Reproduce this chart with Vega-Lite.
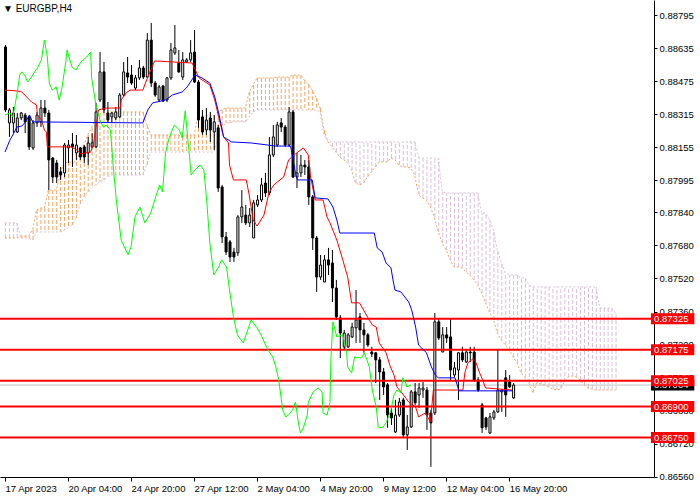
{
  "$schema": "https://vega.github.io/schema/vega-lite/v6.json",
  "width": 654,
  "height": 477,
  "autosize": {"type": "none"},
  "padding": {"left": 0, "top": 0, "right": 46, "bottom": 23},
  "background": "white",
  "title": {"text": "▼ EURGBP,H4", "anchor": "start", "frame": "group", "font": "Liberation Sans", "fontSize": 10, "fontWeight": "normal", "color": "#000000", "offset": 0, "dy": 14, "dx": 3},
  "datasets": {
    "candles": [
      {"i":0,"o":0.88641,"h":0.88650,"l":0.88326,"c":0.88336},
      {"i":1,"o":0.88273,"h":0.88345,"l":0.88205,"c":0.88336},
      {"i":2,"o":0.88273,"h":0.88350,"l":0.88224,"c":0.88321},
      {"i":3,"o":0.88229,"h":0.88321,"l":0.88224,"c":0.88297},
      {"i":4,"o":0.88297,"h":0.88326,"l":0.88287,"c":0.88321},
      {"i":5,"o":0.88311,"h":0.88321,"l":0.88224,"c":0.88278},
      {"i":6,"o":0.88302,"h":0.88311,"l":0.88142,"c":0.88157},
      {"i":7,"o":0.88152,"h":0.88287,"l":0.88142,"c":0.88273},
      {"i":8,"o":0.88273,"h":0.88326,"l":0.88253,"c":0.88311},
      {"i":9,"o":0.88278,"h":0.88384,"l":0.88253,"c":0.88345},
      {"i":10,"o":0.88345,"h":0.88384,"l":0.88302,"c":0.88321},
      {"i":11,"o":0.88321,"h":0.88336,"l":0.87948,"c":0.88094},
      {"i":12,"o":0.88103,"h":0.88108,"l":0.87982,"c":0.88011},
      {"i":13,"o":0.88079,"h":0.88094,"l":0.87982,"c":0.88011},
      {"i":14,"o":0.88036,"h":0.88060,"l":0.87997,"c":0.88021},
      {"i":15,"o":0.88031,"h":0.88176,"l":0.88011,"c":0.88166},
      {"i":16,"o":0.88152,"h":0.88190,"l":0.88079,"c":0.88166},
      {"i":17,"o":0.88171,"h":0.88224,"l":0.88060,"c":0.88157},
      {"i":18,"o":0.88128,"h":0.88215,"l":0.88094,"c":0.88166},
      {"i":19,"o":0.88152,"h":0.88157,"l":0.88094,"c":0.88108},
      {"i":20,"o":0.88157,"h":0.88166,"l":0.88079,"c":0.88108},
      {"i":21,"o":0.88128,"h":0.88205,"l":0.88069,"c":0.88176},
      {"i":22,"o":0.88157,"h":0.88224,"l":0.88152,"c":0.88176},
      {"i":23,"o":0.88157,"h":0.88370,"l":0.88152,"c":0.88326},
      {"i":24,"o":0.88384,"h":0.88616,"l":0.88374,"c":0.88520},
      {"i":25,"o":0.88520,"h":0.88568,"l":0.88321,"c":0.88336},
      {"i":26,"o":0.88321,"h":0.88374,"l":0.88278,"c":0.88287},
      {"i":27,"o":0.88302,"h":0.88326,"l":0.88278,"c":0.88321},
      {"i":28,"o":0.88297,"h":0.88350,"l":0.88287,"c":0.88326},
      {"i":29,"o":0.88302,"h":0.88418,"l":0.88297,"c":0.88408},
      {"i":30,"o":0.88408,"h":0.88568,"l":0.88399,"c":0.88520},
      {"i":31,"o":0.88515,"h":0.88592,"l":0.88466,"c":0.88495},
      {"i":32,"o":0.88505,"h":0.88553,"l":0.88457,"c":0.88466},
      {"i":33,"o":0.88442,"h":0.88505,"l":0.88432,"c":0.88491},
      {"i":34,"o":0.88491,"h":0.88578,"l":0.88481,"c":0.88539},
      {"i":35,"o":0.88539,"h":0.88549,"l":0.88486,"c":0.88495},
      {"i":36,"o":0.88495,"h":0.88708,"l":0.88491,"c":0.88674},
      {"i":37,"o":0.88674,"h":0.88757,"l":0.88447,"c":0.88466},
      {"i":38,"o":0.88466,"h":0.88476,"l":0.88399,"c":0.88408},
      {"i":39,"o":0.88384,"h":0.88457,"l":0.88374,"c":0.88447},
      {"i":40,"o":0.88452,"h":0.88457,"l":0.88374,"c":0.88379},
      {"i":41,"o":0.88384,"h":0.88495,"l":0.88374,"c":0.88491},
      {"i":42,"o":0.88491,"h":0.88660,"l":0.88481,"c":0.88626},
      {"i":43,"o":0.88612,"h":0.88747,"l":0.88602,"c":0.88636},
      {"i":44,"o":0.88563,"h":0.88626,"l":0.88515,"c":0.88520},
      {"i":45,"o":0.88495,"h":0.88616,"l":0.88481,"c":0.88578},
      {"i":46,"o":0.88568,"h":0.88587,"l":0.88563,"c":0.88578},
      {"i":47,"o":0.88578,"h":0.88674,"l":0.88568,"c":0.88612},
      {"i":48,"o":0.88616,"h":0.88723,"l":0.88466,"c":0.88471},
      {"i":49,"o":0.88471,"h":0.88481,"l":0.88249,"c":0.88287},
      {"i":50,"o":0.88302,"h":0.88336,"l":0.88215,"c":0.88229},
      {"i":51,"o":0.88239,"h":0.88345,"l":0.88215,"c":0.88287},
      {"i":52,"o":0.88297,"h":0.88326,"l":0.88181,"c":0.88239},
      {"i":53,"o":0.88229,"h":0.88311,"l":0.88142,"c":0.88278},
      {"i":54,"o":0.88249,"h":0.88263,"l":0.87939,"c":0.87958},
      {"i":55,"o":0.87963,"h":0.87973,"l":0.87692,"c":0.87721},
      {"i":56,"o":0.87721,"h":0.87745,"l":0.87634,"c":0.87648},
      {"i":57,"o":0.87697,"h":0.87706,"l":0.87600,"c":0.87624},
      {"i":58,"o":0.87648,"h":0.87668,"l":0.87600,"c":0.87624},
      {"i":59,"o":0.87644,"h":0.87827,"l":0.87629,"c":0.87818},
      {"i":60,"o":0.87818,"h":0.87948,"l":0.87789,"c":0.87866},
      {"i":61,"o":0.87827,"h":0.87876,"l":0.87779,"c":0.87789},
      {"i":62,"o":0.87789,"h":0.87861,"l":0.87769,"c":0.87827},
      {"i":63,"o":0.87716,"h":0.87900,"l":0.87716,"c":0.87886},
      {"i":64,"o":0.87876,"h":0.87924,"l":0.87866,"c":0.87900},
      {"i":65,"o":0.87900,"h":0.88007,"l":0.87890,"c":0.87973},
      {"i":66,"o":0.87982,"h":0.88031,"l":0.87915,"c":0.87934},
      {"i":67,"o":0.87934,"h":0.88205,"l":0.87924,"c":0.88118},
      {"i":68,"o":0.88118,"h":0.88263,"l":0.88108,"c":0.88205},
      {"i":69,"o":0.88166,"h":0.88278,"l":0.88157,"c":0.88263},
      {"i":70,"o":0.88273,"h":0.88297,"l":0.88229,"c":0.88253},
      {"i":71,"o":0.88253,"h":0.88263,"l":0.88157,"c":0.88166},
      {"i":72,"o":0.88166,"h":0.88350,"l":0.88157,"c":0.88326},
      {"i":73,"o":0.88326,"h":0.88336,"l":0.88007,"c":0.88011},
      {"i":74,"o":0.88011,"h":0.88128,"l":0.87958,"c":0.88031},
      {"i":75,"o":0.88031,"h":0.88118,"l":0.88011,"c":0.88069},
      {"i":76,"o":0.88069,"h":0.88094,"l":0.88021,"c":0.88060},
      {"i":77,"o":0.88060,"h":0.88094,"l":0.87876,"c":0.87915},
      {"i":78,"o":0.87915,"h":0.87924,"l":0.87658,"c":0.87716},
      {"i":79,"o":0.87716,"h":0.87726,"l":0.87455,"c":0.87527},
      {"i":80,"o":0.87527,"h":0.87634,"l":0.87513,"c":0.87585},
      {"i":81,"o":0.87503,"h":0.87634,"l":0.87503,"c":0.87610},
      {"i":82,"o":0.87610,"h":0.87668,"l":0.87537,"c":0.87585},
      {"i":83,"o":0.87595,"h":0.87658,"l":0.87406,"c":0.87474},
      {"i":84,"o":0.87474,"h":0.87513,"l":0.87319,"c":0.87334},
      {"i":85,"o":0.87329,"h":0.87343,"l":0.87135,"c":0.87256},
      {"i":86,"o":0.87189,"h":0.87271,"l":0.87174,"c":0.87256},
      {"i":87,"o":0.87189,"h":0.87256,"l":0.87184,"c":0.87247},
      {"i":88,"o":0.87237,"h":0.87305,"l":0.87232,"c":0.87285},
      {"i":89,"o":0.87281,"h":0.87464,"l":0.87208,"c":0.87319},
      {"i":90,"o":0.87334,"h":0.87353,"l":0.87208,"c":0.87271},
      {"i":91,"o":0.87271,"h":0.87305,"l":0.87160,"c":0.87247},
      {"i":92,"o":0.87247,"h":0.87256,"l":0.87189,"c":0.87198},
      {"i":93,"o":0.87164,"h":0.87189,"l":0.87140,"c":0.87155},
      {"i":94,"o":0.87160,"h":0.87164,"l":0.87014,"c":0.87126},
      {"i":95,"o":0.87126,"h":0.87140,"l":0.86932,"c":0.87068},
      {"i":96,"o":0.87068,"h":0.87087,"l":0.86956,"c":0.86995},
      {"i":97,"o":0.87005,"h":0.87014,"l":0.86797,"c":0.86859},
      {"i":98,"o":0.86869,"h":0.86898,"l":0.86811,"c":0.86845},
      {"i":99,"o":0.86777,"h":0.86932,"l":0.86772,"c":0.86859},
      {"i":100,"o":0.86859,"h":0.86942,"l":0.86850,"c":0.86922},
      {"i":101,"o":0.86932,"h":0.86942,"l":0.86753,"c":0.86763},
      {"i":102,"o":0.86763,"h":0.86859,"l":0.86690,"c":0.86801},
      {"i":103,"o":0.86801,"h":0.86980,"l":0.86797,"c":0.86971},
      {"i":104,"o":0.86971,"h":0.87014,"l":0.86908,"c":0.86918},
      {"i":105,"o":0.86956,"h":0.87014,"l":0.86893,"c":0.86990},
      {"i":106,"o":0.86980,"h":0.87019,"l":0.86942,"c":0.86990},
      {"i":107,"o":0.86980,"h":0.86995,"l":0.86787,"c":0.86859},
      {"i":108,"o":0.86869,"h":0.86884,"l":0.86608,"c":0.86821},
      {"i":109,"o":0.86869,"h":0.87353,"l":0.86859,"c":0.87310},
      {"i":110,"o":0.87310,"h":0.87324,"l":0.87222,"c":0.87232},
      {"i":111,"o":0.87164,"h":0.87285,"l":0.87164,"c":0.87247},
      {"i":112,"o":0.87247,"h":0.87285,"l":0.87208,"c":0.87232},
      {"i":113,"o":0.87237,"h":0.87324,"l":0.87029,"c":0.87077},
      {"i":114,"o":0.87053,"h":0.87116,"l":0.87043,"c":0.87087},
      {"i":115,"o":0.87077,"h":0.87164,"l":0.86932,"c":0.87160},
      {"i":116,"o":0.87160,"h":0.87189,"l":0.87116,"c":0.87126},
      {"i":117,"o":0.87116,"h":0.87174,"l":0.87111,"c":0.87164},
      {"i":118,"o":0.87164,"h":0.87189,"l":0.87116,"c":0.87160},
      {"i":119,"o":0.87164,"h":0.87189,"l":0.87019,"c":0.87029},
      {"i":120,"o":0.87029,"h":0.87043,"l":0.86971,"c":0.86980},
      {"i":121,"o":0.86908,"h":0.86918,"l":0.86772,"c":0.86797},
      {"i":122,"o":0.86845,"h":0.86850,"l":0.86787,"c":0.86801},
      {"i":123,"o":0.86772,"h":0.86869,"l":0.86767,"c":0.86850},
      {"i":124,"o":0.86845,"h":0.86884,"l":0.86835,"c":0.86874},
      {"i":125,"o":0.86874,"h":0.87174,"l":0.86869,"c":0.86980},
      {"i":126,"o":0.86971,"h":0.86980,"l":0.86874,"c":0.86980},
      {"i":127,"o":0.87039,"h":0.87077,"l":0.86850,"c":0.86956},
      {"i":128,"o":0.87019,"h":0.87053,"l":0.86990,"c":0.86995},
      {"i":129,"o":0.86942,"h":0.87014,"l":0.86937,"c":0.87004}
    ],
    "cloud": [
      {"i":0,"a":0.87716,"b":0.87789},{"i":1,"a":0.87716,"b":0.87789},{"i":2,"a":0.87716,"b":0.87789},{"i":3,"a":0.87716,"b":0.87789},
      {"i":4,"a":0.87726,"b":0.87716},{"i":5,"a":0.87726,"b":0.87716},{"i":6,"a":0.87726,"b":0.87716},{"i":7,"a":0.87755,"b":0.87706},
      {"i":8,"a":0.87852,"b":0.87745},{"i":9,"a":0.87861,"b":0.87745},{"i":10,"a":0.87861,"b":0.87745},{"i":11,"a":0.87948,"b":0.87745},
      {"i":12,"a":0.87948,"b":0.87745},{"i":13,"a":0.87948,"b":0.87745},{"i":14,"a":0.88021,"b":0.87745},{"i":15,"a":0.88079,"b":0.87755},
      {"i":16,"a":0.88084,"b":0.87765},{"i":17,"a":0.88084,"b":0.87779},{"i":18,"a":0.88084,"b":0.87813},{"i":19,"a":0.88132,"b":0.87876},
      {"i":20,"a":0.88166,"b":0.87915},{"i":21,"a":0.88215,"b":0.87939},{"i":22,"a":0.88249,"b":0.87958},{"i":23,"a":0.88297,"b":0.87973},
      {"i":24,"a":0.88316,"b":0.87987},{"i":25,"a":0.88326,"b":0.87997},{"i":26,"a":0.88326,"b":0.88011},{"i":27,"a":0.88326,"b":0.88021},
      {"i":28,"a":0.88326,"b":0.88021},{"i":29,"a":0.88326,"b":0.88021},{"i":30,"a":0.88326,"b":0.88021},{"i":31,"a":0.88326,"b":0.88021},
      {"i":32,"a":0.88326,"b":0.88021},{"i":33,"a":0.88326,"b":0.88021},{"i":34,"a":0.88326,"b":0.88021},{"i":35,"a":0.88326,"b":0.88021},
      {"i":36,"a":0.88263,"b":0.88069},{"i":37,"a":0.88215,"b":0.88132},{"i":38,"a":0.88215,"b":0.88132},{"i":39,"a":0.88215,"b":0.88132},
      {"i":40,"a":0.88215,"b":0.88132},{"i":41,"a":0.88215,"b":0.88132},{"i":42,"a":0.88215,"b":0.88132},{"i":43,"a":0.88215,"b":0.88132},
      {"i":44,"a":0.88215,"b":0.88132},{"i":45,"a":0.88205,"b":0.88132},{"i":46,"a":0.88215,"b":0.88132},{"i":47,"a":0.88215,"b":0.88132},
      {"i":48,"a":0.88215,"b":0.88132},{"i":49,"a":0.88307,"b":0.88132},{"i":50,"a":0.88307,"b":0.88132},{"i":51,"a":0.88307,"b":0.88132},
      {"i":52,"a":0.88307,"b":0.88132},{"i":53,"a":0.88307,"b":0.88132},{"i":54,"a":0.88326,"b":0.88190},{"i":55,"a":0.88336,"b":0.88239},
      {"i":56,"a":0.88345,"b":0.88273},{"i":57,"a":0.88345,"b":0.88273},{"i":58,"a":0.88345,"b":0.88278},{"i":59,"a":0.88345,"b":0.88278},
      {"i":60,"a":0.88345,"b":0.88278},{"i":61,"a":0.88345,"b":0.88278},{"i":62,"a":0.88423,"b":0.88302},{"i":63,"a":0.88457,"b":0.88326},
      {"i":64,"a":0.88491,"b":0.88336},{"i":65,"a":0.88491,"b":0.88336},{"i":66,"a":0.88491,"b":0.88336},{"i":67,"a":0.88491,"b":0.88336},
      {"i":68,"a":0.88491,"b":0.88336},{"i":69,"a":0.88495,"b":0.88336},{"i":70,"a":0.88495,"b":0.88336},{"i":71,"a":0.88495,"b":0.88336},
      {"i":72,"a":0.88495,"b":0.88336},{"i":73,"a":0.88505,"b":0.88336},{"i":74,"a":0.88505,"b":0.88336},{"i":75,"a":0.88505,"b":0.88336},
      {"i":76,"a":0.88481,"b":0.88336},{"i":77,"a":0.88461,"b":0.88336},{"i":78,"a":0.88432,"b":0.88336},{"i":79,"a":0.88394,"b":0.88336},
      {"i":80,"a":0.88345,"b":0.88326},{"i":81,"a":0.88239,"b":0.88215},{"i":82,"a":0.88181,"b":0.88181},{"i":83,"a":0.88157,"b":0.88181},
      {"i":84,"a":0.88132,"b":0.88181},{"i":85,"a":0.88108,"b":0.88181},{"i":86,"a":0.88094,"b":0.88181},{"i":87,"a":0.88079,"b":0.88181},
      {"i":88,"a":0.88045,"b":0.88181},{"i":89,"a":0.87982,"b":0.88181},{"i":90,"a":0.87973,"b":0.88181},{"i":91,"a":0.87982,"b":0.88181},
      {"i":92,"a":0.88011,"b":0.88181},{"i":93,"a":0.88036,"b":0.88181},{"i":94,"a":0.88060,"b":0.88181},{"i":95,"a":0.88084,"b":0.88181},
      {"i":96,"a":0.88084,"b":0.88181},{"i":97,"a":0.88084,"b":0.88181},{"i":98,"a":0.88103,"b":0.88181},{"i":99,"a":0.88094,"b":0.88181},
      {"i":100,"a":0.88069,"b":0.88181},{"i":101,"a":0.88060,"b":0.88181},{"i":102,"a":0.88060,"b":0.88181},{"i":103,"a":0.88055,"b":0.88181},
      {"i":104,"a":0.88021,"b":0.88181},{"i":105,"a":0.87924,"b":0.88108},{"i":106,"a":0.87910,"b":0.88103},{"i":107,"a":0.87900,"b":0.88103},
      {"i":108,"a":0.87866,"b":0.88103},{"i":109,"a":0.87818,"b":0.88103},{"i":110,"a":0.87745,"b":0.88103},{"i":111,"a":0.87692,"b":0.87939},
      {"i":112,"a":0.87658,"b":0.87934},{"i":113,"a":0.87610,"b":0.87934},{"i":114,"a":0.87576,"b":0.87934},{"i":115,"a":0.87576,"b":0.87934},
      {"i":116,"a":0.87571,"b":0.87934},{"i":117,"a":0.87552,"b":0.87934},{"i":118,"a":0.87537,"b":0.87934},{"i":119,"a":0.87513,"b":0.87934},
      {"i":120,"a":0.87489,"b":0.87934},{"i":121,"a":0.87450,"b":0.87837},{"i":122,"a":0.87402,"b":0.87837},{"i":123,"a":0.87358,"b":0.87803},
      {"i":124,"a":0.87319,"b":0.87755},{"i":125,"a":0.87256,"b":0.87658},{"i":126,"a":0.87222,"b":0.87600},{"i":127,"a":0.87198,"b":0.87547},
      {"i":128,"a":0.87174,"b":0.87537},{"i":129,"a":0.87140,"b":0.87537},{"i":130,"a":0.87111,"b":0.87537},{"i":131,"a":0.87063,"b":0.87523},
      {"i":132,"a":0.87039,"b":0.87523},{"i":133,"a":0.87014,"b":0.87489},{"i":134,"a":0.86966,"b":0.87479},{"i":135,"a":0.87014,"b":0.87479},
      {"i":136,"a":0.87009,"b":0.87479},{"i":137,"a":0.87005,"b":0.87479},{"i":138,"a":0.86995,"b":0.87479},{"i":139,"a":0.86985,"b":0.87479},
      {"i":140,"a":0.86980,"b":0.87479},{"i":141,"a":0.86985,"b":0.87479},{"i":142,"a":0.87019,"b":0.87479},{"i":143,"a":0.87043,"b":0.87479},
      {"i":144,"a":0.87048,"b":0.87479},{"i":145,"a":0.87043,"b":0.87479},{"i":146,"a":0.87029,"b":0.87479},{"i":147,"a":0.87005,"b":0.87479},
      {"i":148,"a":0.86990,"b":0.87479},{"i":149,"a":0.86985,"b":0.87479},{"i":150,"a":0.86980,"b":0.87479},{"i":151,"a":0.86980,"b":0.87377},
      {"i":152,"a":0.86980,"b":0.87377},{"i":153,"a":0.86980,"b":0.87377},{"i":154,"a":0.86980,"b":0.87377},{"i":155,"a":0.86980,"b":0.87353}
    ],
    "lines": [
      {"s":"tenkan","i":0,"p":0.88432},{"s":"tenkan","i":3,"p":0.88428},{"s":"tenkan","i":4.25,"p":0.88423},{"s":"tenkan","i":5,"p":0.88408},
      {"s":"tenkan","i":6.75,"p":0.88374},{"s":"tenkan","i":8,"p":0.88360},{"s":"tenkan","i":8.25,"p":0.88311},{"s":"tenkan","i":9.25,"p":0.88287},
      {"s":"tenkan","i":10,"p":0.88239},{"s":"tenkan","i":10.5,"p":0.88229},{"s":"tenkan","i":10.75,"p":0.88157},{"s":"tenkan","i":16.75,"p":0.88157},
      {"s":"tenkan","i":18.25,"p":0.88142},{"s":"tenkan","i":19.25,"p":0.88123},{"s":"tenkan","i":21.75,"p":0.88132},{"s":"tenkan","i":22.5,"p":0.88176},
      {"s":"tenkan","i":23.75,"p":0.88336},{"s":"tenkan","i":25.75,"p":0.88345},{"s":"tenkan","i":29.25,"p":0.88345},{"s":"tenkan","i":29.5,"p":0.88384},
      {"s":"tenkan","i":30.75,"p":0.88418},{"s":"tenkan","i":31.75,"p":0.88432},{"s":"tenkan","i":35,"p":0.88432},{"s":"tenkan","i":35.75,"p":0.88471},
      {"s":"tenkan","i":37,"p":0.88529},{"s":"tenkan","i":38,"p":0.88573},{"s":"tenkan","i":47.5,"p":0.88563},{"s":"tenkan","i":49.25,"p":0.88491},
      {"s":"tenkan","i":52,"p":0.88457},{"s":"tenkan","i":53.25,"p":0.88384},{"s":"tenkan","i":54.25,"p":0.88302},{"s":"tenkan","i":55.5,"p":0.88205},
      {"s":"tenkan","i":56.75,"p":0.88176},{"s":"tenkan","i":57,"p":0.88069},{"s":"tenkan","i":58,"p":0.87997},{"s":"tenkan","i":61.25,"p":0.87997},
      {"s":"tenkan","i":62,"p":0.87924},{"s":"tenkan","i":63,"p":0.87803},{"s":"tenkan","i":64,"p":0.87774},{"s":"tenkan","i":65.75,"p":0.87827},
      {"s":"tenkan","i":67,"p":0.87934},{"s":"tenkan","i":68.25,"p":0.87973},{"s":"tenkan","i":70.75,"p":0.88011},{"s":"tenkan","i":72,"p":0.88094},
      {"s":"tenkan","i":73.75,"p":0.88123},{"s":"tenkan","i":75.75,"p":0.88152},{"s":"tenkan","i":77,"p":0.88118},{"s":"tenkan","i":77.5,"p":0.88021},
      {"s":"tenkan","i":78.75,"p":0.87900},{"s":"tenkan","i":80.75,"p":0.87900},{"s":"tenkan","i":81.75,"p":0.87818},{"s":"tenkan","i":82.5,"p":0.87789},
      {"s":"tenkan","i":84.25,"p":0.87706},{"s":"tenkan","i":85.75,"p":0.87610},{"s":"tenkan","i":87,"p":0.87527},{"s":"tenkan","i":88,"p":0.87402},
      {"s":"tenkan","i":90,"p":0.87402},{"s":"tenkan","i":91.75,"p":0.87343},{"s":"tenkan","i":93.25,"p":0.87295},{"s":"tenkan","i":94.25,"p":0.87285},
      {"s":"tenkan","i":95,"p":0.87208},{"s":"tenkan","i":96.75,"p":0.87160},{"s":"tenkan","i":97.75,"p":0.87097},{"s":"tenkan","i":98.75,"p":0.87053},
      {"s":"tenkan","i":99.5,"p":0.86995},{"s":"tenkan","i":100.75,"p":0.86966},{"s":"tenkan","i":102.5,"p":0.86922},{"s":"tenkan","i":104.25,"p":0.86898},
      {"s":"tenkan","i":105,"p":0.86850},{"s":"tenkan","i":106.75,"p":0.86869},{"s":"tenkan","i":108,"p":0.86826},{"s":"tenkan","i":108.75,"p":0.86980},
      {"s":"tenkan","i":116.25,"p":0.86980},{"s":"tenkan","i":116.75,"p":0.87063},{"s":"tenkan","i":117.5,"p":0.87111},{"s":"tenkan","i":118.75,"p":0.87130},
      {"s":"tenkan","i":119.5,"p":0.87116},{"s":"tenkan","i":120.5,"p":0.87063},{"s":"tenkan","i":121.25,"p":0.87029},{"s":"tenkan","i":122,"p":0.86990},
      {"s":"tenkan","i":128.75,"p":0.86980},
      {"s":"kijun","i":0,"p":0.88132},{"s":"kijun","i":1.25,"p":0.88190},{"s":"kijun","i":2,"p":0.88215},{"s":"kijun","i":3,"p":0.88253},
      {"s":"kijun","i":4.25,"p":0.88258},{"s":"kijun","i":5,"p":0.88273},{"s":"kijun","i":6.25,"p":0.88311},{"s":"kijun","i":7,"p":0.88278},
      {"s":"kijun","i":35,"p":0.88273},{"s":"kijun","i":36.25,"p":0.88336},{"s":"kijun","i":37.5,"p":0.88370},{"s":"kijun","i":40.75,"p":0.88384},
      {"s":"kijun","i":42.5,"p":0.88408},{"s":"kijun","i":45,"p":0.88423},{"s":"kijun","i":46.25,"p":0.88447},{"s":"kijun","i":48.25,"p":0.88505},
      {"s":"kijun","i":50,"p":0.88491},{"s":"kijun","i":52,"p":0.88466},{"s":"kijun","i":53.25,"p":0.88399},{"s":"kijun","i":54.25,"p":0.88321},
      {"s":"kijun","i":55.5,"p":0.88205},{"s":"kijun","i":57.5,"p":0.88181},{"s":"kijun","i":62.5,"p":0.88176},{"s":"kijun","i":68.75,"p":0.88161},
      {"s":"kijun","i":72.5,"p":0.88161},{"s":"kijun","i":73,"p":0.88108},{"s":"kijun","i":73.75,"p":0.88031},{"s":"kijun","i":74.25,"p":0.87997},
      {"s":"kijun","i":78,"p":0.87997},{"s":"kijun","i":78.75,"p":0.87910},{"s":"kijun","i":82,"p":0.87905},{"s":"kijun","i":83.25,"p":0.87866},
      {"s":"kijun","i":84.25,"p":0.87803},{"s":"kijun","i":85,"p":0.87740},{"s":"kijun","i":93.75,"p":0.87740},{"s":"kijun","i":94.5,"p":0.87668},
      {"s":"kijun","i":95.75,"p":0.87648},{"s":"kijun","i":96.75,"p":0.87595},{"s":"kijun","i":98,"p":0.87571},{"s":"kijun","i":98.5,"p":0.87513},
      {"s":"kijun","i":99,"p":0.87464},{"s":"kijun","i":100.5,"p":0.87455},{"s":"kijun","i":102.5,"p":0.87406},{"s":"kijun","i":103.25,"p":0.87368},
      {"s":"kijun","i":104.25,"p":0.87285},{"s":"kijun","i":105,"p":0.87198},{"s":"kijun","i":105.75,"p":0.87184},{"s":"kijun","i":107,"p":0.87160},
      {"s":"kijun","i":108.25,"p":0.87092},{"s":"kijun","i":109.25,"p":0.87053},{"s":"kijun","i":110,"p":0.87039},{"s":"kijun","i":114.25,"p":0.87039},
      {"s":"kijun","i":115.25,"p":0.86976},{"s":"kijun","i":128.75,"p":0.86976},
      {"s":"chikou","i":0,"p":0.88311},{"s":"chikou","i":1.25,"p":0.88321},{"s":"chikou","i":2,"p":0.88302},{"s":"chikou","i":3,"p":0.88408},
      {"s":"chikou","i":3.75,"p":0.88505},{"s":"chikou","i":4.25,"p":0.88520},{"s":"chikou","i":5,"p":0.88505},{"s":"chikou","i":5.75,"p":0.88471},
      {"s":"chikou","i":6.75,"p":0.88495},{"s":"chikou","i":7.5,"p":0.88520},{"s":"chikou","i":8.25,"p":0.88539},{"s":"chikou","i":9.25,"p":0.88578},
      {"s":"chikou","i":10,"p":0.88674},{"s":"chikou","i":10.75,"p":0.88592},{"s":"chikou","i":11.25,"p":0.88466},{"s":"chikou","i":12,"p":0.88432},
      {"s":"chikou","i":13,"p":0.88447},{"s":"chikou","i":13.75,"p":0.88384},{"s":"chikou","i":14.5,"p":0.88447},{"s":"chikou","i":15.5,"p":0.88578},
      {"s":"chikou","i":15.75,"p":0.88626},{"s":"chikou","i":17,"p":0.88544},{"s":"chikou","i":18,"p":0.88529},{"s":"chikou","i":19.25,"p":0.88568},
      {"s":"chikou","i":20.75,"p":0.88592},{"s":"chikou","i":21.75,"p":0.88616},{"s":"chikou","i":22,"p":0.88491},{"s":"chikou","i":23,"p":0.88370},
      {"s":"chikou","i":23.75,"p":0.88311},{"s":"chikou","i":24.25,"p":0.88278},{"s":"chikou","i":25,"p":0.88253},{"s":"chikou","i":25.75,"p":0.88263},
      {"s":"chikou","i":26.75,"p":0.88239},{"s":"chikou","i":27.5,"p":0.88060},{"s":"chikou","i":28.25,"p":0.87900},{"s":"chikou","i":29.5,"p":0.87706},
      {"s":"chikou","i":31.25,"p":0.87634},{"s":"chikou","i":32,"p":0.87673},{"s":"chikou","i":33,"p":0.87818},{"s":"chikou","i":34.25,"p":0.87866},
      {"s":"chikou","i":35.5,"p":0.87789},{"s":"chikou","i":37,"p":0.87837},{"s":"chikou","i":38.25,"p":0.87915},{"s":"chikou","i":39.25,"p":0.87973},
      {"s":"chikou","i":40,"p":0.87939},{"s":"chikou","i":40.75,"p":0.88128},{"s":"chikou","i":41.75,"p":0.88205},{"s":"chikou","i":43,"p":0.88263},
      {"s":"chikou","i":44.25,"p":0.88239},{"s":"chikou","i":45,"p":0.88200},{"s":"chikou","i":45.75,"p":0.88331},{"s":"chikou","i":46.75,"p":0.88128},
      {"s":"chikou","i":47.25,"p":0.88021},{"s":"chikou","i":48.25,"p":0.88045},{"s":"chikou","i":49.5,"p":0.88069},{"s":"chikou","i":50.5,"p":0.88045},
      {"s":"chikou","i":51.25,"p":0.87886},{"s":"chikou","i":52,"p":0.87692},{"s":"chikou","i":53,"p":0.87537},{"s":"chikou","i":54.25,"p":0.87576},
      {"s":"chikou","i":55,"p":0.87610},{"s":"chikou","i":56.25,"p":0.87576},{"s":"chikou","i":57,"p":0.87464},{"s":"chikou","i":58,"p":0.87334},
      {"s":"chikou","i":59,"p":0.87247},{"s":"chikou","i":60.5,"p":0.87208},{"s":"chikou","i":62.5,"p":0.87319},{"s":"chikou","i":64,"p":0.87281},
      {"s":"chikou","i":65,"p":0.87247},{"s":"chikou","i":66.75,"p":0.87174},{"s":"chikou","i":68,"p":0.87140},{"s":"chikou","i":68.75,"p":0.87092},
      {"s":"chikou","i":69.5,"p":0.87029},{"s":"chikou","i":70.5,"p":0.86884},{"s":"chikou","i":71.25,"p":0.86850},{"s":"chikou","i":72,"p":0.86859},
      {"s":"chikou","i":73,"p":0.86884},{"s":"chikou","i":73.75,"p":0.86922},{"s":"chikou","i":74.5,"p":0.86821},{"s":"chikou","i":75,"p":0.86772},
      {"s":"chikou","i":75.75,"p":0.86797},{"s":"chikou","i":76.75,"p":0.86859},{"s":"chikou","i":77,"p":0.86922},{"s":"chikou","i":78.25,"p":0.86971},
      {"s":"chikou","i":79.5,"p":0.86990},{"s":"chikou","i":80.5,"p":0.86971},{"s":"chikou","i":80.75,"p":0.86869},{"s":"chikou","i":81.75,"p":0.86859},
      {"s":"chikou","i":82.5,"p":0.86918},{"s":"chikou","i":82.75,"p":0.87140},{"s":"chikou","i":83.25,"p":0.87310},{"s":"chikou","i":84.25,"p":0.87237},
      {"s":"chikou","i":85.75,"p":0.87247},{"s":"chikou","i":86.75,"p":0.87160},{"s":"chikou","i":87,"p":0.87092},{"s":"chikou","i":88,"p":0.87063},
      {"s":"chikou","i":88.75,"p":0.87140},{"s":"chikou","i":90.5,"p":0.87135},{"s":"chikou","i":91.25,"p":0.87160},{"s":"chikou","i":92.5,"p":0.87092},
      {"s":"chikou","i":93.25,"p":0.86980},{"s":"chikou","i":94.25,"p":0.86898},{"s":"chikou","i":94.75,"p":0.86801},{"s":"chikou","i":95.75,"p":0.86797},
      {"s":"chikou","i":96.75,"p":0.86821},{"s":"chikou","i":98,"p":0.86884},{"s":"chikou","i":98.75,"p":0.86956},{"s":"chikou","i":99.5,"p":0.86980},
      {"s":"chikou","i":100.5,"p":0.86966},{"s":"chikou","i":101,"p":0.87039},{"s":"chikou","i":101.75,"p":0.87014},{"s":"chikou","i":102,"p":0.86995},
      {"s":"chikou","i":103,"p":0.87004}
    ],
    "levels": [{"p":0.87325},{"p":0.87175},{"p":0.87025},{"p":0.86900},{"p":0.86750}],
    "bid": [{"p":0.87004}]
  },
  "layer": [
    {
      "data": {"name": "cloud"},
      "mark": {"type": "rule", "strokeDash": [4, 2], "strokeWidth": 1, "xOffset": 0.5},
      "encoding": {
        "x": {"field": "i", "type": "quantitative", "title": null, "scale": {"domain": [0, 163.5], "nice": false, "zero": false},
          "axis": {"values": [0, 16, 32, 48, 64, 80, 96, 112, 128], "tickCount": 20, "labelExpr": "['17 Apr 2023','20 Apr 04:00','24 Apr 20:00','27 Apr 12:00','2 May 04:00','4 May 20:00','9 May 12:00','12 May 04:00','16 May 20:00'][datum.value / 16]",
            "title": null, "grid": false, "domainColor": "#000000", "tickColor": "#000000", "tickSize": 4, "labelAlign": "left", "labelBaseline": "top", "labelPadding": 2,
            "labelFont": "Liberation Sans", "labelFontSize": 9.5, "labelColor": "#000000", "labelOverlap": false, "labelFlush": false, "labelBound": false}},
        "y": {"field": "a", "type": "quantitative", "title": null, "scale": {"domain": [0.86559, 0.88868], "nice": false, "zero": false},
          "axis": {"orient": "right", "values": [0.88795, 0.88635, 0.88475, 0.88315, 0.88155, 0.87995, 0.8784, 0.8768, 0.8752, 0.8736, 0.872, 0.8704, 0.8688, 0.8672, 0.8656], "tickCount": 30,
            "format": ".5f", "title": null, "grid": false, "domainColor": "#000000", "tickColor": "#000000", "tickSize": 3, "labelPadding": 2, "labelBaseline": "middle",
            "labelFont": "Liberation Sans", "labelFontSize": 9.5, "labelColor": "#000000", "labelOverlap": false, "labelSeparation": 0, "labelFlush": false, "labelBound": false}},
        "y2": {"field": "b"},
        "color": {"condition": {"test": "datum.a > datum.b", "value": "#F4A460"}, "value": "#D8BFD8"}
      }
    },
    {
      "data": {"name": "cloud"},
      "mark": {"type": "line", "color": "#F4A460", "strokeDash": [2, 2], "strokeWidth": 1},
      "encoding": {
        "x": {"field": "i", "type": "quantitative", "title": null},
        "y": {"field": "a", "type": "quantitative", "title": null}
      }
    },
    {
      "data": {"name": "cloud"},
      "mark": {"type": "line", "color": "#D8BFD8", "strokeDash": [2, 2], "strokeWidth": 1},
      "encoding": {
        "x": {"field": "i", "type": "quantitative", "title": null},
        "y": {"field": "b", "type": "quantitative", "title": null}
      }
    },
    {
      "data": {"name": "bid"},
      "mark": {"type": "rule", "color": "#C0C0C0", "strokeWidth": 1},
      "encoding": {"y": {"field": "p", "type": "quantitative", "title": null}}
    },
    {
      "data": {"name": "candles"},
      "mark": {"type": "rule", "color": "#000000", "strokeWidth": 1, "xOffset": 0.5},
      "encoding": {
        "x": {"field": "i", "type": "quantitative", "title": null},
        "y": {"field": "l", "type": "quantitative", "title": null},
        "y2": {"field": "h"}
      }
    },
    {
      "data": {"name": "candles"},
      "mark": {"type": "bar", "size": 2, "stroke": "#000000", "strokeWidth": 1, "xOffset": 0.5},
      "encoding": {
        "x": {"field": "i", "type": "quantitative", "title": null},
        "y": {"field": "o", "type": "quantitative", "title": null},
        "y2": {"field": "c"},
        "fill": {"condition": {"test": "datum.c >= datum.o", "value": "#FFFFFF"}, "value": "#000000"}
      }
    },
    {
      "data": {"name": "levels"},
      "mark": {"type": "rule", "color": "#FF0000", "strokeWidth": 2},
      "encoding": {"y": {"field": "p", "type": "quantitative", "title": null}}
    },
    {
      "data": {"name": "lines"},
      "mark": {"type": "line", "strokeWidth": 1},
      "encoding": {
        "x": {"field": "i", "type": "quantitative", "title": null},
        "y": {"field": "p", "type": "quantitative", "title": null},
        "color": {"field": "s", "type": "nominal", "legend": null, "scale": {"domain": ["tenkan", "kijun", "chikou"], "range": ["#FF0000", "#0000FF", "#00FF00"]}}
      }
    },
    {
      "data": {"name": "bid"},
      "mark": {"type": "rect", "color": "#000000", "yOffset": -5.5, "y2Offset": 5.5},
      "encoding": {
        "x": {"datum": 164},
        "x2": {"datum": 175},
        "y": {"field": "p", "type": "quantitative", "title": null},
        "y2": {"field": "p"}
      }
    },
    {
      "data": {"name": "bid"},
      "mark": {"type": "text", "color": "#FFFFFF", "align": "left", "baseline": "middle", "font": "Liberation Sans", "fontSize": 9.5},
      "encoding": {
        "x": {"datum": 164.8},
        "y": {"field": "p", "type": "quantitative", "title": null},
        "text": {"field": "p", "type": "quantitative", "format": ".5f"}
      }
    },
    {
      "data": {"name": "levels"},
      "mark": {"type": "rect", "color": "#FF0000", "yOffset": -5.5, "y2Offset": 5.5},
      "encoding": {
        "x": {"datum": 164},
        "x2": {"datum": 175},
        "y": {"field": "p", "type": "quantitative", "title": null},
        "y2": {"field": "p"}
      }
    },
    {
      "data": {"name": "levels"},
      "mark": {"type": "text", "color": "#FFFFFF", "align": "left", "baseline": "middle", "font": "Liberation Sans", "fontSize": 9.5},
      "encoding": {
        "x": {"datum": 164.8},
        "y": {"field": "p", "type": "quantitative", "title": null},
        "text": {"field": "p", "type": "quantitative", "format": ".5f"}
      }
    }
  ],
  "config": {
    "view": {"stroke": null},
    "font": "Liberation Sans",
    "axis": {"labelOverlap": false, "labelSeparation": 0}
  }
}
